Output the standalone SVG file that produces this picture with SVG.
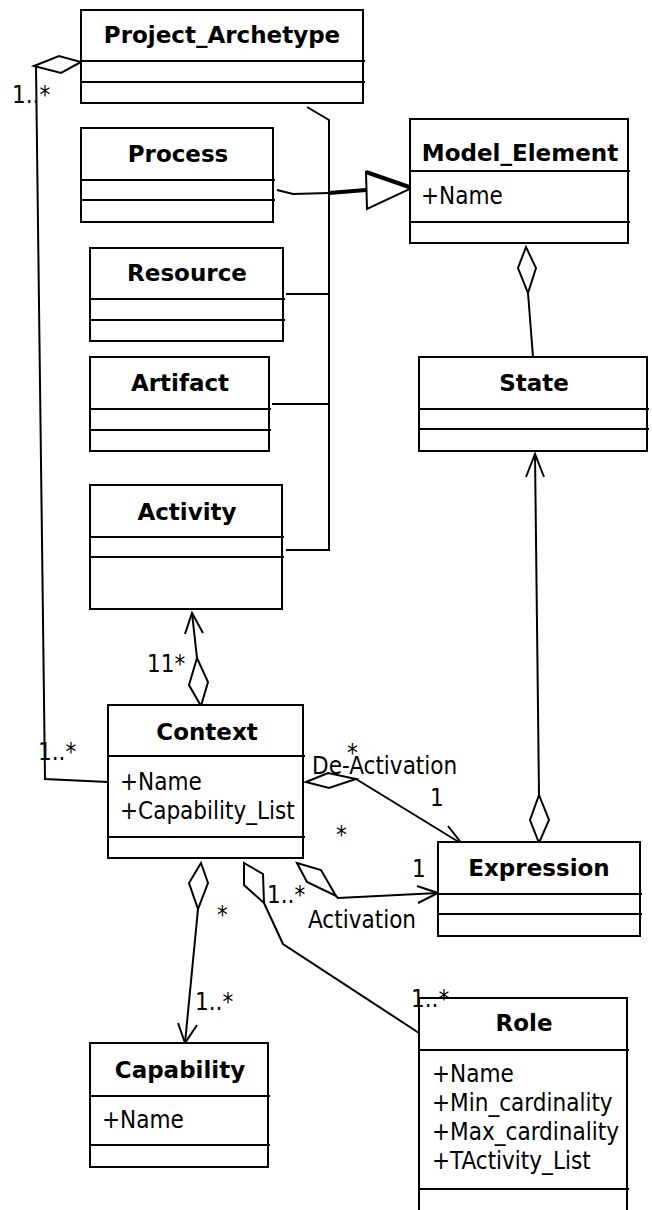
<svg xmlns="http://www.w3.org/2000/svg" width="652" height="1210" viewBox="0 0 652 1210">
<style>
.box{fill:#fff;stroke:#000;stroke-width:2}
.div{stroke:#000;stroke-width:2}
.t{font-family:"DejaVu Sans",Verdana,sans-serif;font-weight:bold;font-size:23px;fill:#000;text-anchor:middle}
.a{font-family:"DejaVu Sans Condensed","DejaVu Sans",sans-serif;font-stretch:condensed;font-size:24px;fill:#000}
.ln{fill:none;stroke:#000;stroke-width:2;stroke-linejoin:miter}
.dia{fill:#fff;stroke:#000;stroke-width:2}
</style>
<rect width="652" height="1210" fill="#fff"/>

<g id="connectors">
  <polyline class="ln" points="36,66 45,779 108,782"/>
  <polygon class="dia" points="34,66 59,56 81,62 61,73"/>
  <polyline class="ln" points="307,107 329,120 329,550 286,550"/>
  <line class="ln" x1="286" y1="294" x2="329" y2="294"/>
  <line class="ln" x1="272" y1="404" x2="329" y2="404"/>
  <polyline class="ln" points="277,190 293,194 329,193"/>
  <line x1="329" y1="193" x2="366" y2="190" stroke="#000" stroke-width="4"/>
  <polygon points="366,172 412,188 367,209" fill="#fff" stroke="#000" stroke-width="2"/>
  <line x1="366" y1="172" x2="412" y2="188" stroke="#000" stroke-width="4"/>
  <line class="ln" x1="528" y1="293" x2="533" y2="357"/>
  <polygon class="dia" points="526,247 518,268 528,293 536,268"/>
  <line class="ln" x1="535" y1="454" x2="539" y2="795"/>
  <polyline class="ln" points="526,477 535,454 544,477"/>
  <polygon class="dia" points="539,795 530,820 539,843 549,820"/>
  <line class="ln" x1="192" y1="613" x2="197" y2="658"/>
  <polyline class="ln" points="185,634 192,613 203,633"/>
  <polygon class="dia" points="197,658 189,685 201,706 208,682"/>
  <polygon class="dia" points="306,782 328,773 356,779 329,788"/>
  <line class="ln" x1="356" y1="779" x2="462" y2="844"/>
  <polyline class="ln" points="448,826 462,844 441,843"/>
  <polygon class="dia" points="297,863 321,870 336,896 307,882"/>
  <polyline class="ln" points="336,896 338,898 438,893"/>
  <polyline class="ln" points="417,886 438,893 418,903"/>
  <polygon class="dia" points="201,863 189,883 198,909 208,883"/>
  <line class="ln" x1="198" y1="909" x2="185" y2="1043"/>
  <polyline class="ln" points="178,1023 185,1043 197,1025"/>
  <polygon class="dia" points="244,863 263,874 264,903 244,885"/>
  <polyline class="ln" points="264,903 283,944 419,1033"/>
</g>

<g id="Project_Archetype">
  <rect class="box" x="81" y="10" width="282" height="93"/>
  <line class="div" x1="81" y1="61" x2="365" y2="61"/>
  <line class="div" x1="81" y1="82" x2="365" y2="82"/>
  <text class="t" x="222" y="43">Project_Archetype</text>
</g>
<g id="Process">
  <rect class="box" x="81" y="128" width="192" height="94"/>
  <line class="div" x1="81" y1="180" x2="275" y2="180"/>
  <line class="div" x1="81" y1="200" x2="275" y2="200"/>
  <text class="t" x="178" y="162">Process</text>
</g>
<g id="Resource">
  <rect class="box" x="90" y="248" width="193" height="93"/>
  <line class="div" x1="90" y1="299" x2="285" y2="299"/>
  <line class="div" x1="90" y1="320" x2="285" y2="320"/>
  <text class="t" x="187" y="281">Resource</text>
</g>
<g id="Artifact">
  <rect class="box" x="90" y="357" width="179" height="94"/>
  <line class="div" x1="90" y1="409" x2="271" y2="409"/>
  <line class="div" x1="90" y1="430" x2="271" y2="430"/>
  <text class="t" x="180" y="391">Artifact</text>
</g>
<g id="Activity">
  <rect class="box" x="90" y="485" width="192" height="124"/>
  <line class="div" x1="90" y1="537" x2="284" y2="537"/>
  <line class="div" x1="90" y1="557" x2="284" y2="557"/>
  <text class="t" x="187" y="520">Activity</text>
</g>
<g id="Model_Element">
  <rect class="box" x="410" y="119" width="218" height="124"/>
  <line class="div" x1="410" y1="171" x2="630" y2="171"/>
  <line class="div" x1="410" y1="222" x2="630" y2="222"/>
  <text class="t" x="520" y="161">Model_Element</text>
  <text class="a" x="421" y="204">+Name</text>
</g>
<g id="State">
  <rect class="box" x="419" y="357" width="228" height="94"/>
  <line class="div" x1="419" y1="409" x2="649" y2="409"/>
  <line class="div" x1="419" y1="429" x2="649" y2="429"/>
  <text class="t" x="534" y="391">State</text>
</g>
<g id="Context">
  <rect class="box" x="108" y="705" width="195" height="153"/>
  <line class="div" x1="108" y1="756" x2="305" y2="756"/>
  <line class="div" x1="108" y1="837" x2="305" y2="837"/>
  <text class="t" x="207" y="740">Context</text>
  <text class="a" x="120" y="790">+Name</text>
  <text class="a" x="120" y="819">+Capability_List</text>
</g>
<g id="Expression">
  <rect class="box" x="438" y="842" width="202" height="94"/>
  <line class="div" x1="438" y1="894" x2="642" y2="894"/>
  <line class="div" x1="438" y1="914" x2="642" y2="914"/>
  <text class="t" x="539" y="876">Expression</text>
</g>
<g id="Capability">
  <rect class="box" x="90" y="1043" width="178" height="124"/>
  <line class="div" x1="90" y1="1096" x2="270" y2="1096"/>
  <line class="div" x1="90" y1="1145" x2="270" y2="1145"/>
  <text class="t" x="180" y="1078">Capability</text>
  <text class="a" x="102" y="1128">+Name</text>
</g>
<g id="Role">
  <rect class="box" x="419" y="998" width="208" height="220"/>
  <line class="div" x1="419" y1="1050" x2="629" y2="1050"/>
  <line class="div" x1="419" y1="1189" x2="629" y2="1189"/>
  <text class="t" x="524" y="1031">Role</text>
  <text class="a" x="432" y="1082">+Name</text>
  <text class="a" x="432" y="1111">+Min_cardinality</text>
  <text class="a" x="432" y="1140">+Max_cardinality</text>
  <text class="a" x="432" y="1169">+TActivity_List</text>
</g>

<g id="connector-labels">
  <text class="a" x="12" y="103">1..*</text>
  <text class="a" x="38" y="760">1..*</text>
  <text class="a" x="147" y="672">11*</text>
  <text class="a" x="312" y="774">De-Activation</text>
  <text class="a" x="347" y="761">*</text>
  <text class="a" x="430" y="806">1</text>
  <text class="a" x="336" y="843">*</text>
  <text class="a" x="308" y="928">Activation</text>
  <text class="a" x="412" y="877">1</text>
  <text class="a" x="267" y="903">1..*</text>
  <text class="a" x="217" y="923">*</text>
  <text class="a" x="195" y="1010">1..*</text>
  <text class="a" x="411" y="1007">1..*</text>
</g>
</svg>
